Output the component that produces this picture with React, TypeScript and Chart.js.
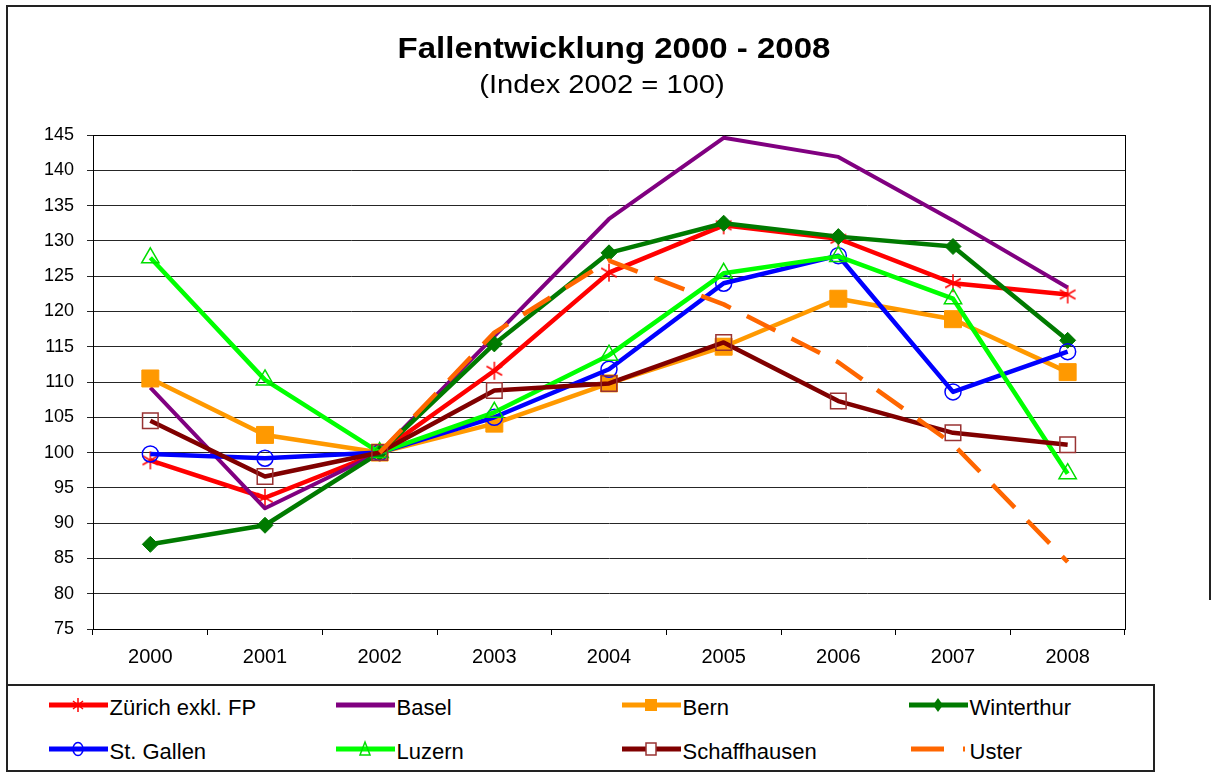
import React, { useEffect, useRef } from 'react';
import { Chart, registerables } from 'chart.js';

Chart.register(...registerables);

// ---- data ----
const years = ['2000', '2001', '2002', '2003', '2004', '2005', '2006', '2007', '2008'];
const zuerich = [98.9, 93.6, 100, 111.6, 125.5, 132.2, 130.3, 124.0, 122.4];
const basel = [109.2, 92.1, 100, 116.5, 133.1, 144.6, 141.9, 132.9, 123.4];
const bern = [110.5, 102.5, 100, 104.1, 109.8, 115.0, 121.8, 118.9, 111.4];
const winterthur = [87.0, 89.7, 100, 115.4, 128.3, 132.5, 130.6, 129.2, 115.9];
const stGallen = [99.8, 99.2, 100, 105.0, 111.8, 124.0, 127.9, 108.6, 114.3];
const luzern = [127.6, 110.3, 100, 105.7, 113.8, 125.4, 127.8, 121.8, 97.0];
const schaffhausen = [104.5, 96.6, 100, 108.8, 109.8, 115.6, 107.3, 102.8, 101.1];
const uster = [null, null, 100, 117.0, 127.2, 121.0, 112.8, 101.2, 84.5];

const yMin = 75;
const yMax = 145;
const yStep = 5;

const titleText = 'Fallentwicklung 2000 - 2008';
const subtitleText = '(Index 2002 = 100)';

const FONT = '"Liberation Sans", Arial, Helvetica, sans-serif';

function makeAsterisk(size: number, color: string, lw: number): HTMLCanvasElement {
  const c = document.createElement('canvas');
  c.width = size;
  c.height = size;
  const ctx = c.getContext('2d')!;
  ctx.strokeStyle = color;
  ctx.lineWidth = lw;
  const cx = size / 2;
  const r = size / 2 - 1;
  [90, 30, 150].forEach((deg) => {
    const a = (deg * Math.PI) / 180;
    ctx.beginPath();
    ctx.moveTo(cx - Math.cos(a) * r, cx - Math.sin(a) * r);
    ctx.lineTo(cx + Math.cos(a) * r, cx + Math.sin(a) * r);
    ctx.stroke();
  });
  return c;
}

type Series = {
  label: string;
  data: (number | null)[];
  color: string;
  width: number;
  point: string;
  radius: number;
  fill: string;
  pointBorder: string;
  pointBorderWidth: number;
  dash?: number[];
};

const series: Series[] = [
  { label: 'Zürich exkl. FP', data: zuerich, color: '#FF0000', width: 4.5, point: 'asterisk', radius: 10, fill: 'rgba(0,0,0,0)', pointBorder: '#FF0000', pointBorderWidth: 1.5 },
  { label: 'Basel', data: basel, color: '#800080', width: 4, point: 'none', radius: 0, fill: '#800080', pointBorder: '#800080', pointBorderWidth: 0 },
  { label: 'Bern', data: bern, color: '#FF9900', width: 4.5, point: 'rect', radius: 12, fill: '#FF9900', pointBorder: '#FF9900', pointBorderWidth: 1 },
  { label: 'Winterthur', data: winterthur, color: '#007A00', width: 4.5, point: 'rectRot', radius: 8, fill: '#007A00', pointBorder: '#007A00', pointBorderWidth: 1 },
  { label: 'St. Gallen', data: stGallen, color: '#0000FF', width: 4.5, point: 'circle', radius: 8, fill: 'rgba(0,0,0,0)', pointBorder: '#0000FF', pointBorderWidth: 1.5 },
  { label: 'Luzern', data: luzern, color: '#00FF00', width: 4.5, point: 'triangle', radius: 10, fill: 'rgba(0,0,0,0)', pointBorder: '#00DD00', pointBorderWidth: 1.5 },
  { label: 'Schaffhausen', data: schaffhausen, color: '#800000', width: 4.5, point: 'rect', radius: 11, fill: 'rgba(0,0,0,0)', pointBorder: '#993333', pointBorderWidth: 1.5 },
  { label: 'Uster', data: uster, color: '#FF6600', width: 4.5, point: 'none', radius: 0, fill: '#FF6600', pointBorder: '#FF6600', pointBorderWidth: 0, dash: [32, 18] },
];

const legendCols = [48.5, 335.5, 621.5, 908.5];
const legendRows = [705, 749];

function LegendMarker({ s }: { s: Series }) {
  const w = 62;
  const h = 20;
  const cy = 10;
  const cx = 29;
  let marker: React.ReactNode = null;
  if (s.point === 'asterisk') {
    const r = 7;
    marker = (
      <g stroke={s.color} strokeWidth={1.5}>
        <line x1={cx} y1={cy - r} x2={cx} y2={cy + r} />
        <line x1={cx - 5} y1={cy - 4} x2={cx + 5} y2={cy + 4} />
        <line x1={cx - 5} y1={cy + 4} x2={cx + 5} y2={cy - 4} />
      </g>
    );
  } else if (s.point === 'rect' && s.fill !== 'rgba(0,0,0,0)') {
    marker = <rect x={cx - 6} y={cy - 6} width={12} height={12} fill={s.fill} />;
  } else if (s.point === 'rect') {
    marker = <rect x={cx - 5} y={cy - 6} width={10} height={12} fill="#fff" stroke={s.pointBorder} strokeWidth={1.5} />;
  } else if (s.point === 'rectRot') {
    marker = <polygon points={`${cx},${cy - 7} ${cx + 5},${cy} ${cx},${cy + 7} ${cx - 5},${cy}`} fill={s.fill} />;
  } else if (s.point === 'circle') {
    marker = <ellipse cx={cx} cy={cy} rx={5} ry={6.5} fill="none" stroke={s.pointBorder} strokeWidth={1.5} />;
  } else if (s.point === 'triangle') {
    marker = <polygon points={`${cx},${cy - 7} ${cx + 5},${cy + 6} ${cx - 5},${cy + 6}`} fill="none" stroke={s.pointBorder} strokeWidth={1.5} />;
  }
  return (
    <svg width={w} height={h} style={{ position: 'absolute', left: 0, top: 0, overflow: 'visible' }}>
      {s.dash ? (
        <line x1={2} y1={cy} x2={56} y2={cy} stroke={s.color} strokeWidth={5} strokeDasharray="33 19" />
      ) : (
        <line x1={0} y1={cy} x2={59} y2={cy} stroke={s.color} strokeWidth={5} />
      )}
      {marker}
    </svg>
  );
}

export default function App() {
  const canvasRef = useRef<HTMLCanvasElement | null>(null);

  useEffect(() => {
    const canvas = canvasRef.current;
    if (!canvas) return;
    const asterisk = makeAsterisk(20, '#FF0000', 1.5);

    const plotBorder = {
      id: 'plotBorder',
      beforeDatasetsDraw(chart: any) {
        const { ctx, chartArea: a } = chart;
        ctx.save();
        ctx.strokeStyle = '#000';
        ctx.lineWidth = 1;
        ctx.strokeRect(Math.round(a.left) + 0.5, Math.round(a.top) + 0.5, Math.round(a.right - a.left), Math.round(a.bottom - a.top));
        ctx.restore();
      },
    };

    const chart = new Chart(canvas, {
      type: 'line',
      data: {
        labels: years,
        datasets: series.map((s, i) => ({
          label: s.label,
          data: s.data,
          borderColor: s.color,
          backgroundColor: s.fill,
          borderWidth: s.width,
          borderDash: s.dash || [],
          borderCapStyle: 'butt',
          borderJoinStyle: 'round',
          pointStyle: s.point === 'asterisk' ? asterisk : s.point === 'none' ? false : s.point,
          pointRadius: s.radius,
          pointHoverRadius: s.radius,
          pointBackgroundColor: s.fill,
          pointBorderColor: s.pointBorder,
          pointBorderWidth: s.pointBorderWidth,
          tension: 0,
          fill: false,
          spanGaps: false,
          order: series.length - i,
        })),
      },
      options: {
        animation: false,
        responsive: false,
        maintainAspectRatio: false,
        events: [],
        layout: { padding: { left: 0, right: 98, top: 135, bottom: 109 } },
        plugins: {
          legend: { display: false },
          title: { display: false },
          tooltip: { enabled: false },
        },
        scales: {
          x: {
            type: 'category',
            offset: true,
            grid: {
              display: true,
              offset: true,
              drawOnChartArea: false,
              drawTicks: true,
              tickLength: 6,
              color: '#000',
              lineWidth: 1,
            },
            border: { display: true, color: '#000', width: 1 },
            ticks: {
              color: '#000',
              font: { family: FONT, size: 20 },
              padding: 10,
              maxRotation: 0,
              autoSkip: false,
            },
            afterFit(scale: any) {
              scale.height = 40;
            },
          },
          y: {
            min: yMin,
            max: yMax,
            grid: {
              display: true,
              drawOnChartArea: true,
              drawTicks: true,
              tickLength: 6,
              color: '#262626',
              lineWidth: 1,
            },
            border: { display: true, color: '#000', width: 1 },
            ticks: {
              stepSize: yStep,
              color: '#000',
              font: { family: FONT, size: 18 },
              padding: 13,
            },
            afterFit(scale: any) {
              scale.width = 93;
            },
          },
        },
      },
      plugins: [plotBorder],
    } as any);

    return () => {
      chart.destroy();
    };
  }, []);

  return (
    <div style={{ position: 'absolute', left: 0, top: 0, width: 1223, height: 778, background: '#fff', overflow: 'hidden', fontFamily: FONT }}>
      {/* outer frame */}
      <div style={{ position: 'absolute', left: 6, top: 5, width: 1204, height: 0, borderTop: '2px solid #222' }} />
      <div style={{ position: 'absolute', left: 6, top: 5, width: 0, height: 766, borderLeft: '2px solid #222' }} />
      <div style={{ position: 'absolute', left: 1209, top: 5, width: 0, height: 595, borderLeft: '2px solid #222' }} />
      <canvas ref={canvasRef} width={1223} height={778} style={{ position: 'absolute', left: 0, top: 0, width: 1223, height: 778 }} />
      {/* title */}
      <div
        style={{
          position: 'absolute',
          left: 613.5,
          top: 33,
          fontSize: 30,
          lineHeight: '30px',
          fontWeight: 'bold',
          whiteSpace: 'nowrap',
          color: '#000',
          transform: 'translateX(-50%) scaleX(1.1)',
        }}
      >
        {titleText}
      </div>
      <div
        style={{
          position: 'absolute',
          left: 602,
          top: 71,
          fontSize: 26.5,
          lineHeight: '26.5px',
          whiteSpace: 'nowrap',
          color: '#000',
          transform: 'translateX(-50%) scaleX(1.1)',
        }}
      >
        {subtitleText}
      </div>
      {/* legend box */}
      <div
        style={{
          position: 'absolute',
          left: 6,
          top: 684,
          width: 1145,
          height: 84,
          border: '2px solid #222',
          background: '#fff',
        }}
      />
      {series.map((s, i) => {
        const col = i % 4;
        const row = Math.floor(i / 4);
        const x = legendCols[col];
        const y = legendRows[row];
        return (
          <div key={s.label}>
            <div style={{ position: 'absolute', left: x, top: y - 10, width: 62, height: 20 }}>
              <LegendMarker s={s} />
            </div>
            <div
              style={{
                position: 'absolute',
                left: x + 61,
                top: y - 7.6,
                fontSize: 22,
                lineHeight: '22px',
                whiteSpace: 'nowrap',
                color: '#000',
              }}
            >
              {s.label}
            </div>
          </div>
        );
      })}
    </div>
  );
}
